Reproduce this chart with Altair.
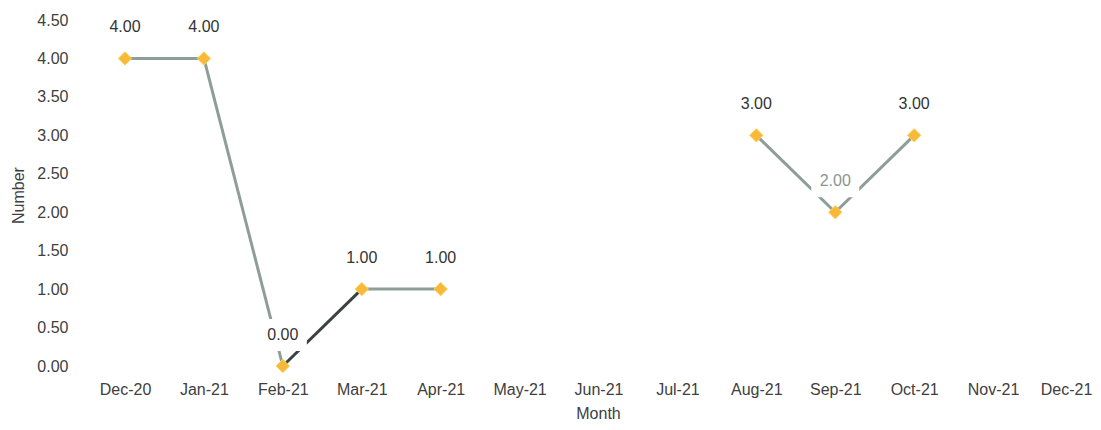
import altair as alt
import pandas as pd

months = ["Dec-20", "Jan-21", "Feb-21", "Mar-21", "Apr-21", "May-21", "Jun-21",
          "Jul-21", "Aug-21", "Sep-21", "Oct-21", "Nov-21", "Dec-21"]
values = [4.0, 4.0, 0.0, 1.0, 1.0, None, None, None, 3.0, 2.0, 3.0, None, None]
y_ticks = [0, 0.5, 1, 1.5, 2, 2.5, 3, 3.5, 4, 4.5]
dark_edges = ["Feb-21"]          # edge starting at this month drawn dark
muted_labels = ["Sep-21"]        # label drawn in muted grey

# point table
pts = pd.DataFrame({"month": months, "value": values}).dropna()

# edge table (each consecutive pair of valid points is one segment)
rows = []
for i in range(len(months) - 1):
    a, b = values[i], values[i + 1]
    if a is None or b is None:
        continue
    kind = "dark" if months[i] in dark_edges else "base"
    rows.append({"seg": i, "kind": kind, "month": months[i], "value": a})
    rows.append({"seg": i, "kind": kind, "month": months[i + 1], "value": b})
edges = pd.DataFrame(rows)

FONT = "Liberation Sans"

x_enc = alt.X(
    "month:N",
    sort=months,
    scale=alt.Scale(type="point", domain=months, range=[35, 982], padding=0),
    axis=alt.Axis(
        title="Month", labelAngle=0, labelFontSize=16, labelFont=FONT,
        labelColor="#404040", labelPadding=15, ticks=False, tickSize=0,
        domain=False, grid=False, labelOverlap=False, labelBound=False,
        labelOffset=alt.condition("datum.value == 'Dec-21'",
                                  alt.value(-6), alt.value(0)),
        titleFont=FONT, titleFontSize=16,
        titleFontWeight="normal", titleColor="#404040",
        titleX=508, titleY=52, titleBaseline="alphabetic", titleAlign="center",
    ),
)
y_enc = alt.Y(
    "value:Q",
    scale=alt.Scale(domain=[0, 4.5], nice=False, zero=True),
    axis=alt.Axis(
        title="Number", values=y_ticks, tickCount=len(y_ticks),
        format=".2f", labelFontSize=16, labelFont=FONT, labelColor="#404040",
        labelPadding=22, ticks=False, tickSize=0, domain=False, grid=False,
        labelOverlap=False, labelFlush=False,
        titleFont=FONT, titleFontSize=16, titleFontWeight="normal",
        titleColor="#404040", titleX=-72, titleY=175, titleAngle=270,
        titleBaseline="middle", titleAlign="center",
    ),
)

lines = alt.Chart(edges).mark_line(strokeWidth=3).encode(
    x=x_enc,
    y=y_enc,
    detail="seg:N",
    color=alt.Color("kind:N", scale=alt.Scale(domain=["base", "dark"],
                                              range=["#8d9d97", "#3b4242"]),
                    legend=None),
)

boxes = alt.Chart(pts).mark_point(
    shape="M-1.5,-1H1.5V1H-1.5Z", filled=True, fill="white", stroke=None,
    opacity=1, size=1024, yOffset=-31,
).encode(x=alt.X("month:N", sort=months), y="value:Q")

markers = alt.Chart(pts).mark_point(
    shape="diamond", filled=True, size=180, opacity=1,
    fill="#f8b93a", stroke="#fcd45a", strokeWidth=1,
).encode(x=alt.X("month:N", sort=months), y="value:Q")

labels = alt.Chart(pts).mark_text(
    dy=-31, fontSize=16, font=FONT, baseline="middle", align="center",
).encode(
    x=alt.X("month:N", sort=months),
    y="value:Q",
    text=alt.Text("value:Q", format=".2f"),
    color=alt.condition(
        alt.FieldOneOfPredicate(field="month", oneOf=muted_labels),
        alt.value("#8a9590"),
        alt.value("#333333"),
    ),
)

chart = alt.layer(lines, boxes, markers, labels).properties(
    width=995,
    height=346,
    autosize=alt.AutoSizeParams(type="none"),
    padding={"left": 82, "top": 12, "right": 8, "bottom": 56},
    background="white",
).configure_view(stroke=None)

chart.save("out.html", embed_options={"renderer": "svg", "actions": False})
